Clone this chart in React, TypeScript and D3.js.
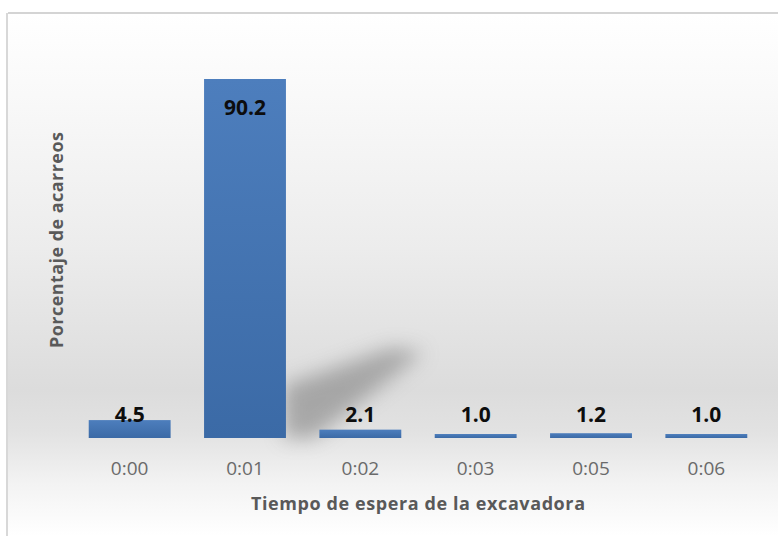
import React from "react";
import * as d3 from "d3";

const categories = ["0:00", "0:01", "0:02", "0:03", "0:05", "0:06"];
const values = [4.5, 90.2, 2.1, 1.0, 1.2, 1.0];
const valueLabels = ["4.5", "90.2", "2.1", "1.0", "1.2", "1.0"];
const xTitle = "Tiempo de espera de la excavadora";
const yTitle = "Porcentaje de acarreos";

const W = 778;
const H = 536;
const plot = { left: 72, right: 764, top: 40, bottom: 438 };
const FONT = "'Open Sans', Lato, sans-serif";

export default function App() {
  const x = d3
    .scaleBand<string>()
    .domain(categories)
    .range([plot.left, plot.right])
    .paddingInner(0.29)
    .paddingOuter(0.145);
  const y = d3.scaleLinear().domain([0, 100]).range([plot.bottom, plot.top]);
  const bw = x.bandwidth();

  const big = categories[values.indexOf(d3.max(values) as number)];
  const bx = (x(big) as number) + bw;
  const base = y(0);
  const shadowPts = [
    [bx - 2, base],
    [bx - 2, base - 52],
    [bx + 105, base - 90],
    [bx + 138, base - 86],
    [bx + 28, base],
  ]
    .map((p) => p.join(","))
    .join(" ");

  return (
    <svg
      width={W}
      height={H}
      style={{ position: "absolute", left: 0, top: 0, display: "block" }}
    >
      <defs>
        <linearGradient id="bg" x1="0" y1="0" x2="0" y2="1" gradientUnits="objectBoundingBox">
          <stop offset="0" stopColor="#ffffff" />
          <stop offset="0.18" stopColor="#f8f8f8" />
          <stop offset="0.45" stopColor="#ececec" />
          <stop offset="0.72" stopColor="#dcdcdc" />
          <stop offset="0.8" stopColor="#e2e2e2" />
          <stop offset="0.9" stopColor="#f3f3f3" />
          <stop offset="1" stopColor="#ffffff" />
        </linearGradient>
        <linearGradient id="barg" x1="0" y1="0" x2="0" y2="1">
          <stop offset="0" stopColor="#4d7ebd" />
          <stop offset="1" stopColor="#3b6aa6" />
        </linearGradient>
        <filter id="blur" x="-50%" y="-50%" width="200%" height="200%">
          <feGaussianBlur stdDeviation="10" />
        </filter>
      </defs>
      <rect x={0} y={0} width={W} height={H} fill="#ffffff" />
      <rect x={8} y={14} width={W - 8} height={H - 14} fill="url(#bg)" />
      <line x1={8} y1={13} x2={W} y2={13} stroke="#d4d4d4" strokeWidth={2} />
      <line x1={7} y1={13} x2={7} y2={H} stroke="#d8d8d8" strokeWidth={2} />

      <polygon points={shadowPts} fill="#707070" opacity={0.5} filter="url(#blur)" />

      {categories.map((c, i) => (
        <rect
          key={c}
          x={x(c)}
          y={y(values[i])}
          width={bw}
          height={base - y(values[i])}
          fill="url(#barg)"
        />
      ))}

      {categories.map((c, i) => {
        const cx = (x(c) as number) + bw / 2;
        const inside = values[i] > 50;
        const ty = inside ? y(values[i]) + 36 : 422;
        return (
          <text
            key={"l" + c}
            x={cx}
            y={ty}
            textAnchor="middle"
            fontFamily={FONT}
            fontWeight="bold"
            fontSize={21}
            fill="#0d0d0d"
          >
            {valueLabels[i]}
          </text>
        );
      })}

      {categories.map((c) => (
        <text
          key={"t" + c}
          x={(x(c) as number) + bw / 2}
          y={475}
          textAnchor="middle"
          fontFamily={FONT}
          fontSize={19}
          fill="#6a6a6a"
        >
          {c}
        </text>
      ))}

      <text
        x={418}
        y={510}
        textAnchor="middle"
        fontFamily={FONT}
        fontWeight="bold"
        fontSize={18}
        fill="#595959"
        textLength={334}
      >
        {xTitle}
      </text>
      <text
        transform={`translate(63,${240}) rotate(-90)`}
        textAnchor="middle"
        fontFamily={FONT}
        fontWeight="bold"
        fontSize={18}
        fill="#595959"
        textLength={216}
      >
        {yTitle}
      </text>
    </svg>
  );
}
